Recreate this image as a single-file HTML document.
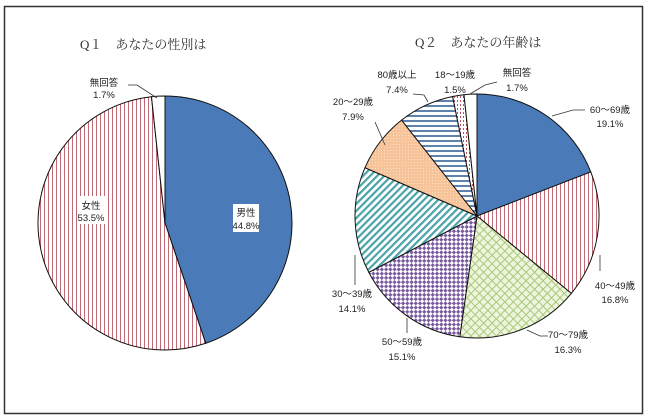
<!DOCTYPE html>
<html><head><meta charset="utf-8"><style>
html,body{margin:0;padding:0;background:#fff;}
svg{display:block;}
text{font-family:"Liberation Sans","Noto Sans CJK JP",sans-serif;font-size:9.5px;fill:#222;}
.t{font-family:"Liberation Serif","Noto Serif CJK SC",serif;font-size:13px;fill:#333;}
</style></head><body>
<svg id="s" width="650" height="418" viewBox="0 0 650 418" xmlns="http://www.w3.org/2000/svg">
<defs>
<pattern id="pv" width="4" height="4" patternUnits="userSpaceOnUse"><rect width="4" height="4" fill="#fff"/><rect x="0" width="1" height="4" fill="#c06a75"/></pattern>
<pattern id="pg" width="6" height="6" patternUnits="userSpaceOnUse" patternTransform="rotate(45)"><rect width="6" height="6" fill="#eef5dc"/><rect width="1" height="6" fill="#a8c87c"/><rect width="6" height="1" fill="#a8c87c"/></pattern>
<pattern id="pp" width="6" height="6" patternUnits="userSpaceOnUse" patternTransform="rotate(45)"><rect width="6" height="6" fill="#fff"/><rect width="3" height="3" fill="#7a5a9e"/><rect x="3" y="3" width="3" height="3" fill="#7a5a9e"/></pattern>
<pattern id="pt" width="5" height="5" patternUnits="userSpaceOnUse" patternTransform="rotate(45)"><rect width="5" height="5" fill="#fff"/><rect width="2.2" height="5" fill="#4aa3a8"/></pattern>
<pattern id="po" width="3" height="3" patternUnits="userSpaceOnUse"><rect width="3" height="3" fill="#f7c49a"/><rect width="1" height="1" fill="#fbe0c8"/></pattern>
<pattern id="ph" width="5" height="5" patternUnits="userSpaceOnUse"><rect width="5" height="5" fill="#fff"/><rect width="5" height="2" fill="#5f82ad"/></pattern>
<pattern id="pd" width="3" height="4" patternUnits="userSpaceOnUse"><rect width="3" height="4" fill="#fff"/><rect x="1" y="0" width="1" height="2" fill="#c0505a"/></pattern>
</defs>
<rect x="4.5" y="6.5" width="638" height="407" fill="#fff" stroke="#333" stroke-width="1.5"/>
<text class="t" x="80" y="49">Q１　あなたの性別は</text>
<text class="t" x="415" y="47">Q２　あなたの年齢は</text>
<g id="g1"></g><g id="g2"></g>
<g stroke="#333" stroke-width="0.8" fill="none">
<polyline points="128,85 137,85 157,98"/>
<polyline points="552,116 573,110 585,110"/>
<polyline points="600,255 600,271"/>
<polyline points="527,330 540,336 548,336"/>
<polyline points="407,318 407,333"/>
<polyline points="355,255 355,285"/>
<polyline points="375,122 385,145"/>
<polyline points="413,94 424,95 428,102"/>
<polyline points="497,82 485,85 470,94"/>
</g>
<rect x="233" y="204" width="26" height="28" fill="#fff"/>
<rect x="77" y="196" width="28" height="28" fill="#fff"/>
<g text-anchor="middle">
<text x="104" y="86">無回答</text><text x="104" y="98">1.7%</text>
<text x="91" y="209">女性</text><text x="91" y="221">53.5%</text>
<text x="246" y="216">男性</text><text x="246" y="229">44.8%</text>
<text x="610" y="113">60～69歳</text><text x="610" y="127">19.1%</text>
<text x="615" y="289">40～49歳</text><text x="615" y="303">16.8%</text>
<text x="568" y="338">70～79歳</text><text x="568" y="353">16.3%</text>
<text x="402" y="345">50～59歳</text><text x="402" y="360">15.1%</text>
<text x="352" y="297">30～39歳</text><text x="352" y="312">14.1%</text>
<text x="353" y="105">20～29歳</text><text x="353" y="120">7.9%</text>
<text x="397" y="78">80歳以上</text><text x="397" y="93">7.4%</text>
<text x="455" y="78">18～19歳</text><text x="455" y="93">1.5%</text>
<text x="517" y="76">無回答</text><text x="517" y="91">1.7%</text>
</g>
</svg>
<script>
function pie(id,cx,cy,r,data){
  var g=document.getElementById(id),a=0,tot=data.reduce(function(s,d){return s+d[0]},0),h='';
  data.forEach(function(d){
    var a2=a+d[0]/tot*2*Math.PI;
    var x1=cx+r*Math.sin(a),y1=cy-r*Math.cos(a),x2=cx+r*Math.sin(a2),y2=cy-r*Math.cos(a2);
    var l=(a2-a)>Math.PI?1:0;
    h+='<path d="M'+cx+','+cy+' L'+x1.toFixed(2)+','+y1.toFixed(2)+' A'+r+','+r+' 0 '+l+' 1 '+x2.toFixed(2)+','+y2.toFixed(2)+' Z" fill="'+d[1]+'" stroke="#111" stroke-width="1"/>';
    a=a2;
  });
  g.innerHTML=h;
}
pie('g1',165,223,127,[[44.8,'#4a7ab7'],[53.5,'url(#pv)'],[1.7,'#fff']]);
pie('g2',477,216,122,[[19.1,'#4a7ab7'],[16.8,'url(#pv)'],[16.3,'url(#pg)'],[15.1,'url(#pp)'],[14.1,'url(#pt)'],[7.9,'url(#po)'],[7.4,'url(#ph)'],[1.5,'url(#pd)'],[1.7,'#fff']]);
</script>
</body></html>
